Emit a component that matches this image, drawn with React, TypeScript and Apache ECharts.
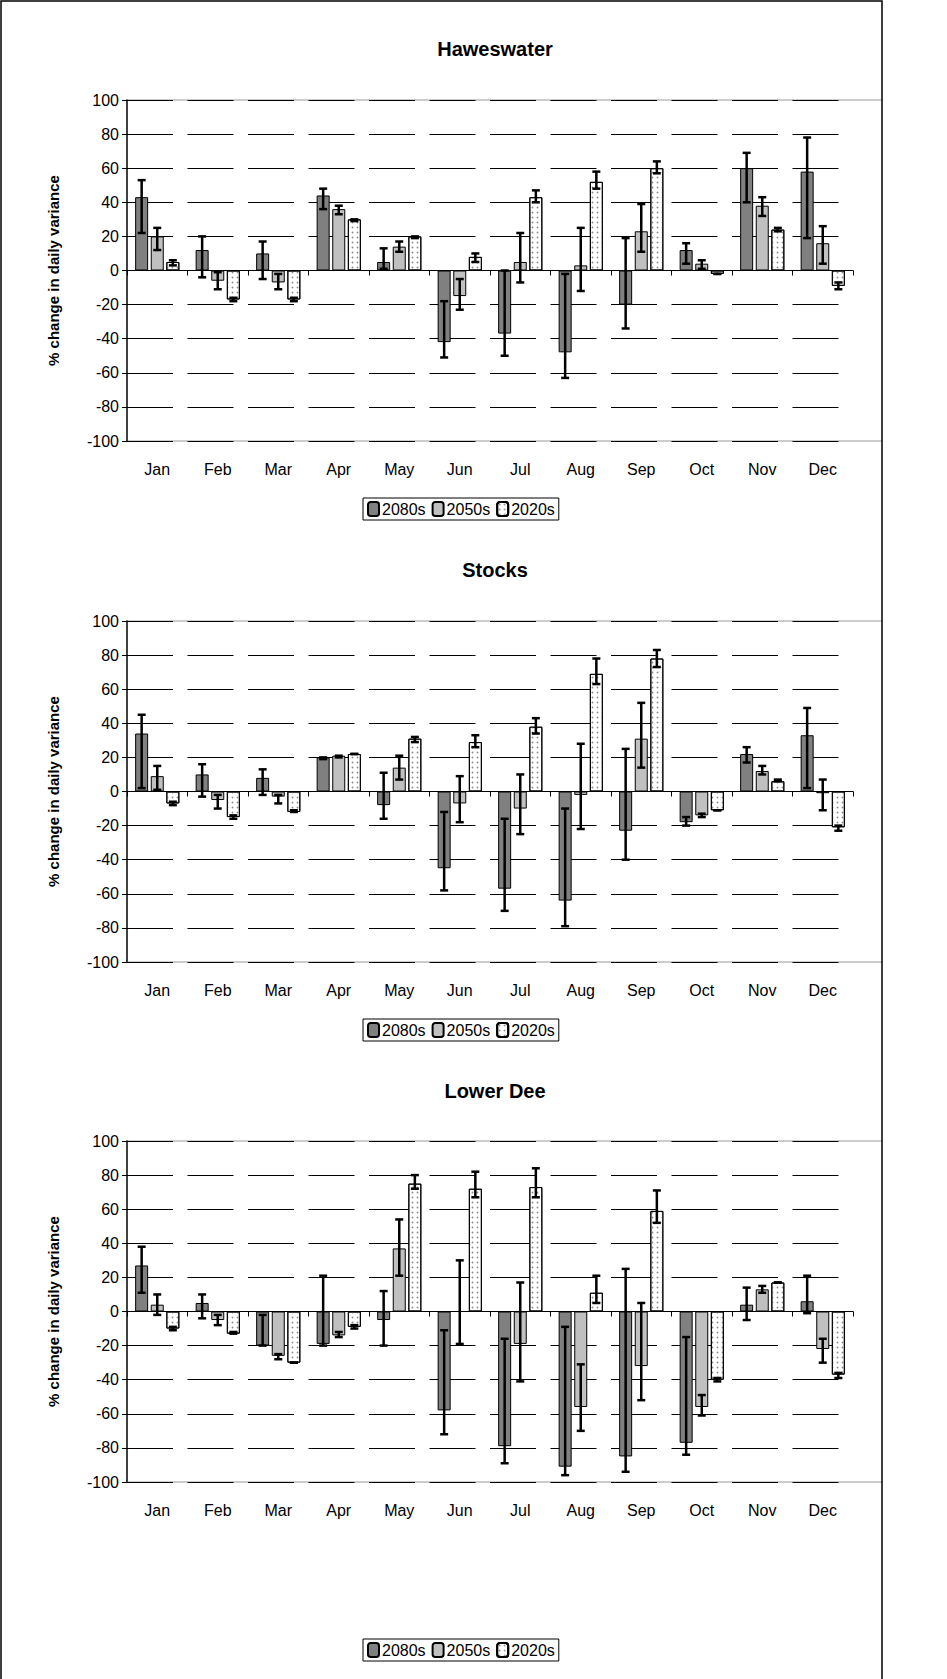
import React, { useEffect, useRef } from "react";
import * as echarts from "echarts";

const months = ["Jan","Feb","Mar","Apr","May","Jun","Jul","Aug","Sep","Oct","Nov","Dec"];
const seriesNames = ["2080s","2050s","2020s"];
const titles = ["Haweswater","Stocks","Lower Dee"];

const haw2080 = [43,12,10,44,5,-42,-37,-48,-20,12,60,58];
const haw2050 = [20,-6,-7,36,14,-15,5,3,23,4,38,16];
const haw2020 = [5,-17,-17,30,20,8,43,52,60,-2,24,-9];
const hawErr2080 = [[22,53],[-4,20],[-5,17],[36,48],[1,13],[-51,-18],[-50,0],[-63,-2],[-34,19],[4,16],[40,69],[19,78]];
const hawErr2050 = [[12,25],[-11,-1],[-11,-2],[33,38],[11,17],[-23,-5],[-7,22],[-12,25],[11,39],[1,6],[32,43],[4,26]];
const hawErr2020 = [[3,6],[-18,-16],[-18,-16],[29,30],[19,20],[5,10],[40,47],[48,58],[57,64],[-2,-2],[23,25],[-11,-7]];

const sto2080 = [34,10,8,20,-8,-45,-57,-64,-23,-18,22,33];
const sto2050 = [9,-5,-3,21,14,-7,-10,-2,31,-14,12,-1];
const sto2020 = [-7,-15,-12,22,31,29,38,69,78,-11,6,-21];
const stoErr2080 = [[2,45],[-3,16],[-2,13],[19,20],[-16,11],[-58,-12],[-70,-16],[-79,-10],[-40,25],[-20,-15],[17,26],[2,49]];
const stoErr2050 = [[1,15],[-10,-2],[-7,-2],[20,21],[7,21],[-18,9],[-25,10],[-22,28],[14,52],[-15,-13],[10,15],[-11,7]];
const stoErr2020 = [[-8,-6],[-16,-14],[-12,-11],[22,22],[29,32],[26,33],[34,43],[63,78],[73,83],[-11,-11],[6,7],[-23,-20]];

const dee2080 = [27,5,-20,-19,-5,-58,-79,-91,-85,-77,4,6];
const dee2050 = [4,-5,-26,-14,37,0,-19,-56,-32,-56,13,-22];
const dee2020 = [-10,-13,-30,-9,75,72,73,11,59,-40,17,-37];
const deeErr2080 = [[11,38],[-4,10],[-20,-2],[-20,21],[-20,12],[-72,-11],[-89,-16],[-96,-9],[-94,25],[-84,-15],[-5,14],[-1,21]];
const deeErr2050 = [[-2,10],[-8,-2],[-28,-25],[-15,-12],[21,54],[-19,30],[-41,17],[-70,-31],[-52,5],[-61,-49],[11,15],[-30,-16]];
const deeErr2020 = [[-11,-9],[-13,-12],[-30,-30],[-10,-8],[72,80],[67,82],[67,84],[5,21],[52,71],[-41,-39],[17,17],[-39,-36]];

const panels = [
  { vals: [haw2080, haw2050, haw2020], errs: [hawErr2080, hawErr2050, hawErr2020] },
  { vals: [sto2080, sto2050, sto2020], errs: [stoErr2080, stoErr2050, stoErr2020] },
  { vals: [dee2080, dee2050, dee2020], errs: [deeErr2080, deeErr2050, deeErr2020] },
];

const FONT = "Liberation Sans";
const gridTops = [100, 621, 1141];
const PH = 341;
const GL = 127;
const GW = 726;
const titleY = [34, 555, 1076];
const legendY = [498, 1019, 1639];
const BW = 13;
const GAP = 2.6;

export default function App() {
  const ref = useRef<HTMLDivElement>(null);
  useEffect(() => {
    document.body.style.margin = "0";
    const chart = echarts.init(ref.current!, null, { renderer: "svg" });
    const fills = ["#808080", "#c0c0c0", "#ffffff"];
    const grids: any[] = [], xAxes: any[] = [], yAxes: any[] = [], series: any[] = [], legends: any[] = [], graphics: any[] = [];
    const dots = { symbol: "circle", symbolSize: 0.35, color: "#8a8a8a", dashArrayX: [5, 0], dashArrayY: [5, 0], rotation: 0, backgroundColor: "#ffffff" };
    panels.forEach((p, g) => {
      grids.push({ left: GL, width: GW, top: gridTops[g], height: PH, show: false });
      [gridTops[g], gridTops[g] + PH].forEach((y) => graphics.push({ type: "line", z: 0, shape: { x1: GL, y1: y, x2: GL + GW + 30, y2: y }, style: { stroke: "#999", lineWidth: 1 }, silent: true }));
      xAxes.push({
        type: "category", gridIndex: g, data: months,
        axisLine: { onZero: true, lineStyle: { color: "#000" } },
        axisTick: { show: true, length: 5, lineStyle: { color: "#000" } },
        axisLabel: { show: false },
      });
      xAxes.push({
        type: "category", gridIndex: g, data: months, position: "bottom",
        axisLine: { show: false }, axisTick: { show: false },
        axisLabel: { color: "#000", fontFamily: FONT, fontSize: 16, margin: 20 },
      });
      yAxes.push({
        type: "value", gridIndex: g, min: -100, max: 100, interval: 20,
        name: "% change in daily variance", nameLocation: "middle", nameGap: 66,
        nameTextStyle: { fontFamily: FONT, fontWeight: "bold", fontSize: 15, color: "#000" },
        axisLine: { show: true, lineStyle: { color: "#000", width: 1.5 } },
        axisTick: { show: true, length: 5, lineStyle: { color: "#000" } },
        axisLabel: { color: "#000", fontFamily: FONT, fontSize: 16, margin: 8 },
        splitLine: { show: true, lineStyle: { color: "#000", type: [46, 14.5], dashOffset: 0 } },
      });
      p.vals.forEach((v, s) => {
        series.push({
          type: "bar", name: seriesNames[s], xAxisIndex: g * 2, yAxisIndex: g, data: v,
          barWidth: BW, barGap: "20%",
          itemStyle: { color: fills[s], borderColor: "#000", borderWidth: 1, decal: s === 2 ? dots : "none" },
        });
      });
      const errData: any[] = [];
      p.errs.forEach((e, s) => e.forEach((r, i) => errData.push([i, r[0], r[1], s])));
      series.push({
        type: "custom", xAxisIndex: g * 2, yAxisIndex: g, data: errData, z: 10,
        renderItem: (params: any, api: any) => {
          const i = api.value(0), s = api.value(3);
          const lo = api.coord([i, api.value(1)]);
          const hi = api.coord([i, api.value(2)]);
          const x = lo[0] + (s - 1) * (BW + GAP);
          const st = { stroke: "#000", lineWidth: 2.5 };
          return {
            type: "group", children: [
              { type: "line", shape: { x1: x, y1: lo[1], x2: x, y2: hi[1] }, style: st },
              { type: "line", shape: { x1: x - 4, y1: lo[1], x2: x + 4, y2: lo[1] }, style: st },
              { type: "line", shape: { x1: x - 4, y1: hi[1], x2: x + 4, y2: hi[1] }, style: st },
            ],
          };
        },
      });
      legends.push({
        data: seriesNames.map((n) => ({ name: n })), top: legendY[g], left: 363,
        orient: "horizontal", itemWidth: 11, itemHeight: 14, itemGap: 6,
        borderColor: "#000", borderWidth: 1, padding: [3, 4, 3, 4],
        textStyle: { fontFamily: FONT, fontSize: 16, color: "#000", padding: [0, 0, 0, -2] },
        selectedMode: false,
      });
    });
    graphics.push({ type: "rect", shape: { x: 1, y: 1, width: 881, height: 1690 }, style: { fill: "none", stroke: "#000", lineWidth: 1.5 }, silent: true });
    chart.setOption({
      animation: false,
      backgroundColor: "#fff",
      aria: { enabled: true, decal: { show: false } },
      title: titles.map((t, g) => ({ text: t, left: 490, textAlign: "center", top: titleY[g], textStyle: { fontFamily: FONT, fontSize: 20, fontWeight: "bold", color: "#000" } })),
      grid: grids, xAxis: xAxes, yAxis: yAxes, series, legend: legends,
      graphic: graphics,
    });
    return () => chart.dispose();
  }, []);
  return <div ref={ref} style={{ width: 947, height: 1679 }} />;
}
